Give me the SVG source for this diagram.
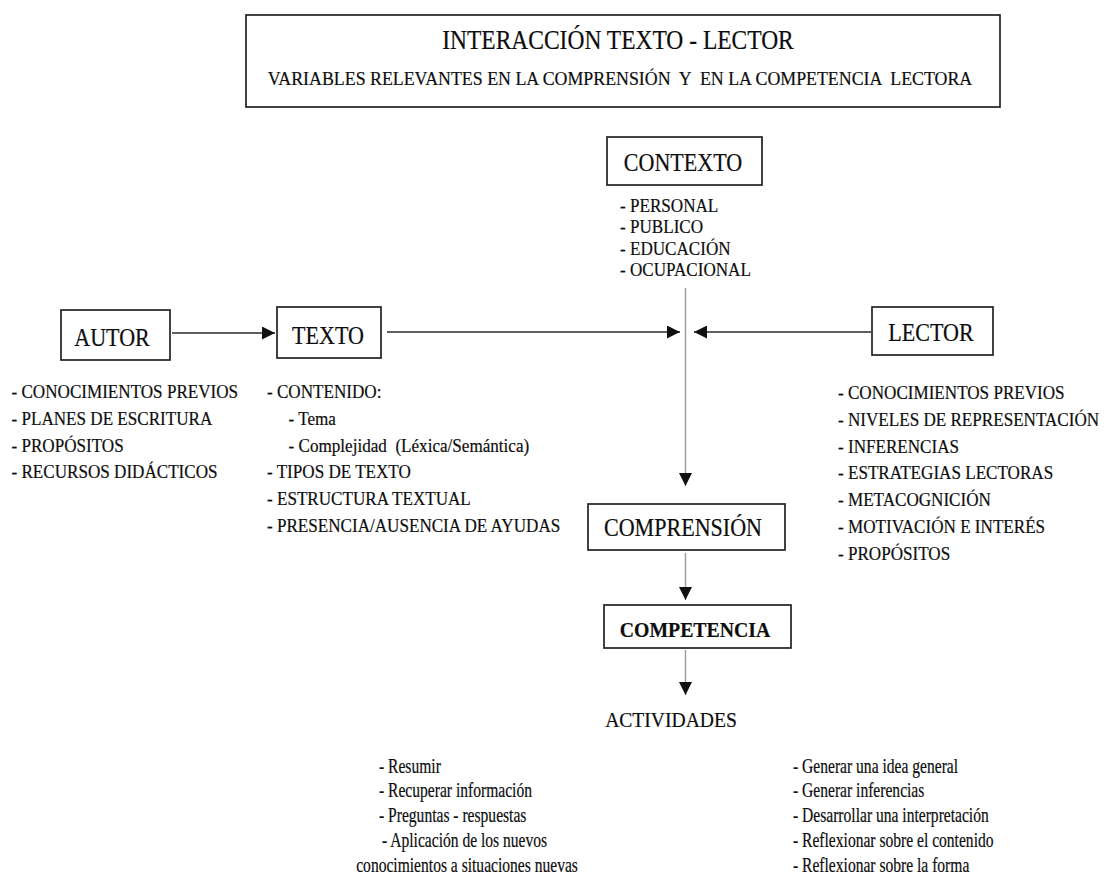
<svg xmlns="http://www.w3.org/2000/svg" width="1106" height="880" viewBox="0 0 1106 880">
<style>
.t{font-family:"Liberation Serif","Times New Roman",serif;fill:#0d0d0d;stroke:#0d0d0d;stroke-width:0.2}
.lbl{font-size:24.5px;text-anchor:middle}
.li{font-size:19px}
.act{font-size:20.5px}
.box{fill:#fff;stroke:#222;stroke-width:1.7}
.conn{stroke:#2a2a2a;stroke-width:1.6;fill:none}
.gray{stroke:#9a9a9a;stroke-width:1.4;fill:none}
</style>
<defs>
<marker id="ah" markerUnits="userSpaceOnUse" markerWidth="14" markerHeight="13" refX="13" refY="6.5" orient="auto">
<path d="M0,0 L13,6.5 L0,13 z" fill="#111"/>
</marker>
</defs>
<rect width="1106" height="880" fill="#fff"/>

<g id="title">
<rect class="box" x="246" y="15" width="754" height="92"/>
<text class="t" transform="translate(618 49) scale(0.87 1)" font-size="27" text-anchor="middle">INTERACCIÓN TEXTO - LECTOR</text>
<text class="t" transform="translate(620 85) scale(0.94 1)" font-size="19" text-anchor="middle" xml:space="preserve">VARIABLES RELEVANTES EN LA COMPRENSIÓN  Y  EN LA COMPETENCIA  LECTORA</text>
</g>

<g id="connectors">
<line class="conn" x1="172" y1="333" x2="275" y2="333" marker-end="url(#ah)"/>
<line class="conn" x1="387" y1="332" x2="680" y2="332" marker-end="url(#ah)"/>
<line class="conn" x1="871" y1="332" x2="694" y2="332" marker-end="url(#ah)"/>
<line class="gray" x1="685.5" y1="288" x2="685.5" y2="486" marker-end="url(#ah)"/>
<line class="gray" x1="685.5" y1="553" x2="685.5" y2="600" marker-end="url(#ah)"/>
<line class="gray" x1="685.5" y1="650" x2="685.5" y2="695" marker-end="url(#ah)"/>
</g>

<g id="contexto">
<rect class="box" x="607" y="137" width="155" height="48"/>
<text class="t lbl" transform="translate(683 171) scale(0.9 1)">CONTEXTO</text>
<g transform="translate(620 0) scale(0.9 1)">
<text class="t li" x="0" y="212">- PERSONAL</text>
<text class="t li" x="0" y="233.5">- PUBLICO</text>
<text class="t li" x="0" y="255">- EDUCACIÓN</text>
<text class="t li" x="0" y="276.5">- OCUPACIONAL</text>
</g>
</g>

<g id="autor">
<rect class="box" x="61" y="310" width="109" height="50"/>
<text class="t lbl" transform="translate(112 346) scale(0.9 1)">AUTOR</text>
<g transform="translate(11.5 0) scale(0.9 1)">
<text class="t li" x="0" y="398">- CONOCIMIENTOS PREVIOS</text>
<text class="t li" x="0" y="424.8">- PLANES DE ESCRITURA</text>
<text class="t li" x="0" y="451.6">- PROPÓSITOS</text>
<text class="t li" x="0" y="478.4">- RECURSOS DIDÁCTICOS</text>
</g>
</g>

<g id="texto">
<rect class="box" x="277" y="307" width="104" height="51"/>
<text class="t lbl" transform="translate(328 344) scale(0.9 1)">TEXTO</text>
<g transform="translate(267 0) scale(0.9 1)">
<text class="t li" x="0" y="398">- CONTENIDO:</text>
<text class="t li" x="24" y="424.8">- Tema</text>
<text class="t li" x="24" y="451.6" xml:space="preserve">- Complejidad  (Léxica/Semántica)</text>
<text class="t li" x="0" y="478.4">- TIPOS DE TEXTO</text>
<text class="t li" x="0" y="505.2">- ESTRUCTURA TEXTUAL</text>
<text class="t li" x="0" y="532">- PRESENCIA/AUSENCIA DE AYUDAS</text>
</g>
</g>

<g id="lector">
<rect class="box" x="872" y="307" width="121" height="48"/>
<text class="t lbl" transform="translate(931 341) scale(0.9 1)">LECTOR</text>
<g transform="translate(838 0) scale(0.9 1)">
<text class="t li" x="0" y="399">- CONOCIMIENTOS PREVIOS</text>
<text class="t li" x="0" y="425.8">- NIVELES DE REPRESENTACIÓN</text>
<text class="t li" x="0" y="452.6">- INFERENCIAS</text>
<text class="t li" x="0" y="479.4">- ESTRATEGIAS LECTORAS</text>
<text class="t li" x="0" y="506.2">- METACOGNICIÓN</text>
<text class="t li" x="0" y="533">- MOTIVACIÓN E INTERÉS</text>
<text class="t li" x="0" y="559.8">- PROPÓSITOS</text>
</g>
</g>

<g id="comprension">
<rect class="box" x="588" y="504" width="197" height="46"/>
<text class="t lbl" transform="translate(683 536) scale(0.9 1)">COMPRENSIÓN</text>
</g>

<g id="competencia">
<rect class="box" x="604" y="605" width="187" height="43"/>
<text class="t" transform="translate(695 637) scale(0.9 1)" font-size="22" font-weight="bold" text-anchor="middle">COMPETENCIA</text>
</g>

<g id="actividades">
<text class="t" transform="translate(671 727) scale(0.9 1)" font-size="21.8" text-anchor="middle">ACTIVIDADES</text>
<g transform="translate(379 0) scale(0.76 1)">
<text class="t act" x="0" y="773">- Resumir</text>
<text class="t act" x="0" y="797.5">- Recuperar información</text>
<text class="t act" x="0" y="822">- Preguntas - respuestas</text>
<text class="t act" x="4" y="847">- Aplicación de los nuevos</text>
<text class="t act" x="-30" y="872">conocimientos a situaciones nuevas</text>
</g>
<g transform="translate(793 0) scale(0.76 1)">
<text class="t act" x="0" y="773">- Generar una idea general</text>
<text class="t act" x="0" y="797.5">- Generar inferencias</text>
<text class="t act" x="0" y="822">- Desarrollar una interpretación</text>
<text class="t act" x="0" y="847">- Reflexionar sobre el contenido</text>
<text class="t act" x="0" y="872">- Reflexionar sobre la forma</text>
</g>
</g>
</svg>
